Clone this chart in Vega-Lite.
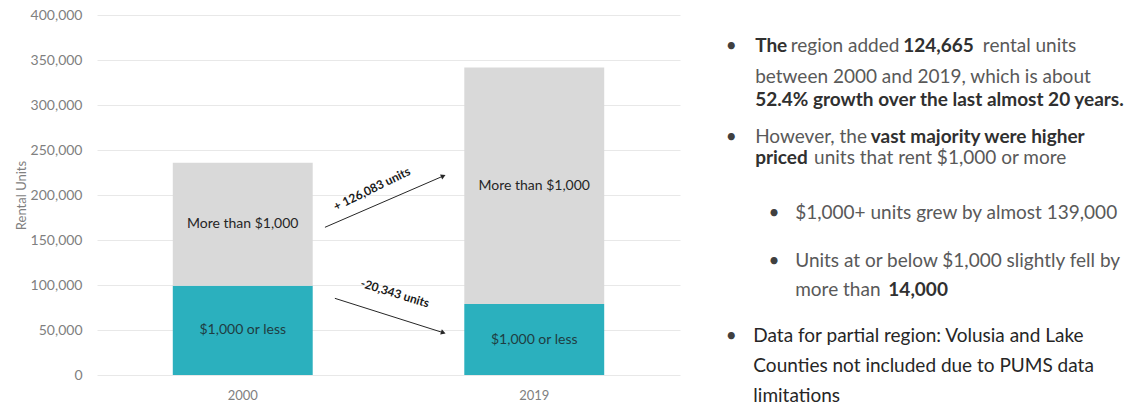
{
  "$schema": "https://vega.github.io/schema/vega-lite/v6.json",
  "padding": {"left": 15, "top": 8, "right": 0, "bottom": 0},
  "autosize": {"type": "pad"},
  "background": "white",
  "spacing": 0,
  "config": {"view": {"stroke": null}, "font": "Lato", "text": {"font": "Lato"}},
  "datasets": {
    "bars": [
      {"year": "2000", "segment": "$1,000 or less", "units": 99200},
      {"year": "2000", "segment": "More than $1,000", "units": 136700},
      {"year": "2019", "segment": "$1,000 or less", "units": 78857},
      {"year": "2019", "segment": "More than $1,000", "units": 262783}
    ],
    "arrows": [
      {"change": "+ 126,083 units", "dir": "up", "x": 0.282, "y": 164100, "x2": 0.688, "y2": 221100, "lx": 0.443, "ly": 206700},
      {"change": "-20,343 units", "dir": "down", "x": 0.316, "y": 85200, "x2": 0.688, "y2": 47000, "lx": 0.522, "ly": 90700}
    ],
    "bullets": [
      {"x": 11.4, "y": 10.2},
      {"x": 11.4, "y": 35.6},
      {"x": 20.9, "y": 56.7},
      {"x": 20.9, "y": 69.9},
      {"x": 11.4, "y": 90.7}
    ],
    "plainText": [
      {"x": 24.6, "y": 10.2, "t": "region added"},
      {"x": 67.3, "y": 10.2, "t": "rental units"},
      {"x": 16.7, "y": 18.9, "t": "between 2000 and 2019, which is about"},
      {"x": 16.7, "y": 35.6, "t": "However, the"},
      {"x": 29.8, "y": 41.4, "t": "units that rent $1,000 or more"},
      {"x": 25.6, "y": 56.7, "t": "$1,000+ units grew by almost 139,000"},
      {"x": 25.6, "y": 69.9, "t": "Units at or below $1,000 slightly fell by"},
      {"x": 25.6, "y": 78.1, "t": "more than"}
    ],
    "boldText": [
      {"x": 16.7, "y": 10.2, "t": "The"},
      {"x": 49.6, "y": 10.2, "t": "124,665"},
      {"x": 16.7, "y": 25.3, "t": "52.4% growth over the last almost 20 years."},
      {"x": 42.4, "y": 35.6, "t": "vast majority were higher"},
      {"x": 16.7, "y": 41.4, "t": "priced"},
      {"x": 46.3, "y": 78.1, "t": "14,000"}
    ],
    "darkText": [
      {"x": 16.3, "y": 90.7, "t": "Data for partial region: Volusia and Lake"},
      {"x": 16.3, "y": 99.1, "t": "Counties not included due to PUMS data"},
      {"x": 16.3, "y": 107.4, "t": "limitations"}
    ]
  },
  "hconcat": [
    {
      "width": 583,
      "height": 360,
      "layer": [
        {
          "data": {"name": "bars"},
          "layer": [
            {
              "mark": {"type": "bar"},
              "encoding": {
                "x": {
                  "field": "year", "type": "nominal",
                  "scale": {"paddingInner": 0.52, "paddingOuter": 0.26},
                  "axis": {"title": null, "labelAngle": 0, "ticks": false, "domain": false, "labelPadding": 14, "labelFontSize": 13, "labelColor": "#808080", "labelFont": "Lato"}
                },
                "y": {
                  "field": "units", "type": "quantitative", "stack": "zero",
                  "scale": {"domain": [0, 400000], "nice": false},
                  "axis": {
                    "title": "Rental Units",
                    "values": [0, 50000, 100000, 150000, 200000, 250000, 300000, 350000, 400000],
                    "format": ",", "labelExpr": "format(datum.value, ',')", "ticks": false, "domain": false, "labelPadding": 15,
                    "labelFontSize": 14, "labelColor": "#808080", "labelFont": "Lato",
                    "gridColor": "#e8e8e8", "minExtent": 65, "maxExtent": 65, "titlePadding": 4,
                    "titleFontSize": 13, "titleFontWeight": "normal", "titleColor": "#808080", "titleFont": "Lato"
                  }
                },
                "color": {
                  "field": "segment", "type": "nominal",
                  "scale": {"domain": ["$1,000 or less", "More than $1,000"], "range": ["#2bb0be", "#d9d9d9"]},
                  "legend": null
                },
                "order": {"field": "segment", "sort": "ascending"}
              }
            },
            {
              "transform": [
                {"stack": "units", "groupby": ["year"], "sort": [{"field": "segment", "order": "ascending"}], "as": ["y0", "y1"]},
                {"fold": ["y0", "y1"], "as": ["edge", "value"]}
              ],
              "mark": {"type": "text", "fontSize": 14},
              "encoding": {
                "x": {"field": "year", "type": "nominal"},
                "y": {"aggregate": "mean", "field": "value", "type": "quantitative", "scale": {"domain": [0, 400000], "nice": false}},
                "text": {"field": "segment"},
                "color": {"condition": {"test": "datum.segment === '$1,000 or less'", "value": "#1f3d42"}, "value": "#262626"}
              }
            }
          ]
        },
        {
          "data": {"name": "arrows"},
          "layer": [
            {
              "mark": {"type": "rule", "color": "#262626", "strokeWidth": 1},
              "encoding": {
                "x": {"field": "x", "type": "quantitative", "scale": {"domain": [-0.5, 1.5], "nice": false, "zero": false}, "axis": null},
                "y": {"field": "y", "type": "quantitative", "scale": {"domain": [0, 400000], "nice": false, "zero": false}, "axis": null},
                "x2": {"field": "x2"},
                "y2": {"field": "y2"}
              }
            },
            {
              "mark": {"type": "point", "shape": "triangle-right", "filled": true, "size": 30, "color": "#262626", "opacity": 1},
              "encoding": {
                "x": {"field": "x2", "type": "quantitative", "axis": null},
                "y": {"field": "y2", "type": "quantitative", "axis": null},
                "angle": {"condition": {"test": "datum.dir === 'up'", "value": 336.6}, "value": 17.6}
              }
            },
            {
              "mark": {"type": "text", "fontSize": 12, "fontWeight": "bold", "color": "#1a1a1a"},
              "encoding": {
                "x": {"field": "lx", "type": "quantitative", "axis": null},
                "y": {"field": "ly", "type": "quantitative", "axis": null},
                "text": {"field": "change"},
                "angle": {"condition": {"test": "datum.dir === 'up'", "value": 334}, "value": 17}
              }
            }
          ]
        }
      ],
      "resolve": {"scale": {"x": "independent", "y": "independent"}, "axis": {"x": "independent", "y": "independent"}}
    },
    {
      "width": 450,
      "height": 360,
      "encoding": {
        "x": {"field": "x", "type": "quantitative", "scale": {"domain": [0, 100], "nice": false, "zero": false}, "axis": null},
        "y": {"field": "y", "type": "quantitative", "scale": {"domain": [0, 100], "nice": false, "zero": false, "reverse": true}, "axis": null}
      },
      "layer": [
        {
          "data": {"name": "bullets"},
          "mark": {"type": "text", "fontSize": 19, "align": "center", "baseline": "alphabetic", "color": "#404040"},
          "encoding": {"text": {"value": "•"}}
        },
        {
          "data": {"name": "plainText"},
          "mark": {"type": "text", "fontSize": 19, "align": "left", "baseline": "alphabetic", "color": "#595959"},
          "encoding": {"text": {"field": "t"}}
        },
        {
          "data": {"name": "boldText"},
          "mark": {"type": "text", "fontSize": 19, "fontWeight": "bold", "align": "left", "baseline": "alphabetic", "color": "#303030"},
          "encoding": {"text": {"field": "t"}}
        },
        {
          "data": {"name": "darkText"},
          "mark": {"type": "text", "fontSize": 19, "align": "left", "baseline": "alphabetic", "color": "#262626"},
          "encoding": {"text": {"field": "t"}}
        }
      ]
    }
  ]
}
